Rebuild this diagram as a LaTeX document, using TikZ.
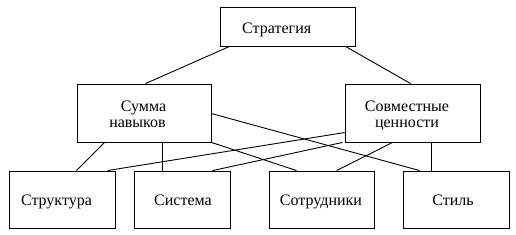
\documentclass[tikz,border=0pt]{standalone}
\usepackage{fontspec}
\setmainfont{Liberation Serif}
\begin{document}
\begin{tikzpicture}[x=1pt,y=-1pt,line width=0.9pt,
  box/.style={draw,rectangle,inner sep=0pt,minimum height=57pt},
  txt/.style={anchor=base,inner sep=0pt,font=\fontsize{16}{18}\selectfont},
  conn/.style={draw,line width=0.9pt}]
\useasboundingbox (0,0) rectangle (516,235);
\node[box,minimum width=135pt,minimum height=39pt] (top) at (287.5,26.5) {};
\node[box,minimum width=134pt,minimum height=58pt] (sum) at (144,113) {};
\node[box,minimum width=135pt,minimum height=58pt] (sovm) at (412.5,113) {};
\node[box,minimum width=106pt] (struk) at (62,199.5) {};
\node[box,minimum width=96pt] (sist) at (182,199.5) {};
\node[box,minimum width=105pt] (sotr) at (321.5,199.5) {};
\node[box,minimum width=106pt] (stil) at (456,199.5) {};
\node[txt] (topt) at (276.7,33.3) {Стратегия};
\node[txt] (sumt1) at (143.5,112) {Сумма};
\node[txt] (sumt2) at (137.5,127.6) {навыков};
\node[txt] (sovmt1) at (407,112) {Совместные};
\node[txt] (sovmt2) at (407,127.6) {ценности};
\node[txt] (strukt) at (56.5,205.5) {Структура};
\node[txt] (sistt) at (183,205.5) {Система};
\node[txt] (sotrt) at (321,205.5) {Сотрудники};
\node[txt] (stilt) at (453,205.5) {Стиль};
\draw[conn] ([xshift=10pt]top.south west) -- ([xshift=69pt]sum.north west);
\draw[conn] ([xshift=126pt]top.south west) -- ([xshift=66pt]sovm.north west);
\draw[conn] ([xshift=28pt]sum.south west) -- ([xshift=68pt]struk.north west);
\draw[conn] ([xshift=86pt]sum.south west) -- ([xshift=29pt]sist.north west);
\draw[conn] ([yshift=-30pt]sum.north east) -- ([xshift=17pt]stil.north west);
\draw[conn] (sum.south east) -- ([xshift=28pt]sotr.north west);
\draw[conn] ([yshift=-49pt]sovm.north west) -- ([xshift=99pt]struk.north west);
\draw[conn] ([xshift=-2pt]sovm.south west) -- ([xshift=79pt]sist.north west);
\draw[conn] ([xshift=48pt]sovm.south west) -- ([xshift=68pt]sotr.north west);
\draw[conn] ([xshift=87pt]sovm.south west) -- ([xshift=29pt]stil.north west);
\end{tikzpicture}
\end{document}
